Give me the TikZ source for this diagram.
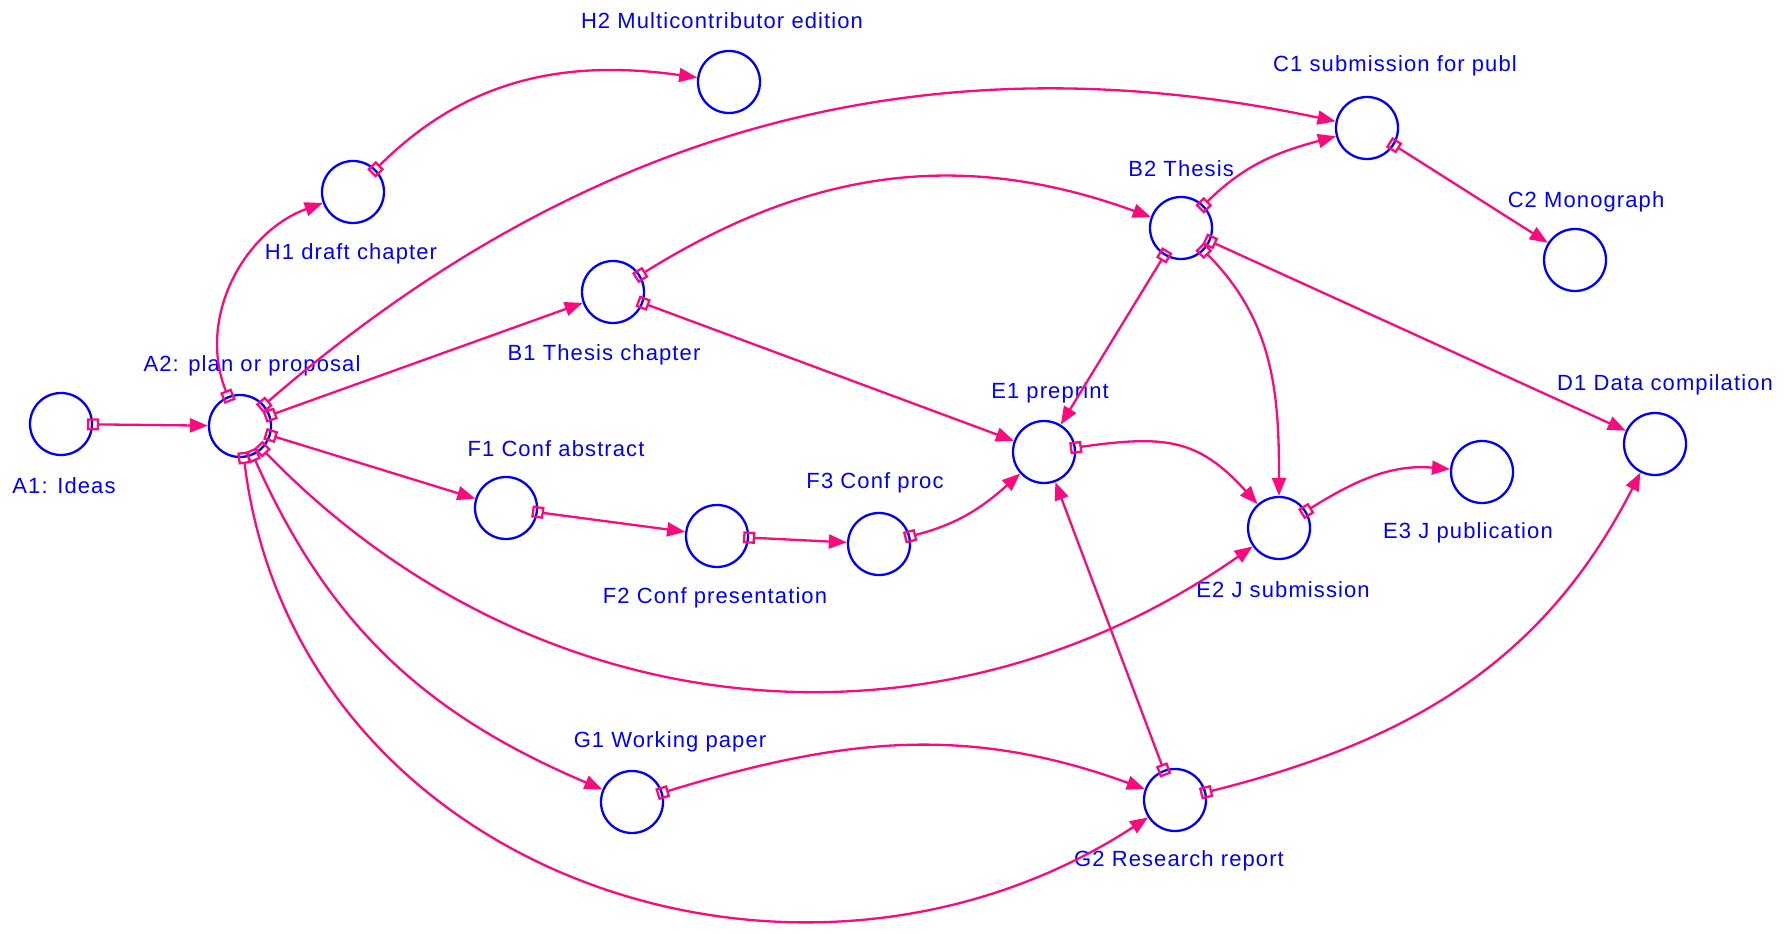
\documentclass[tikz,border=0pt]{standalone}
\usepackage{fontspec}
\setmainfont{Liberation Sans}
\newfontfamily\tagfont{Liberation Sans}[LetterSpace=5]
\usepackage{tikz}
\usetikzlibrary{arrows.meta}
\definecolor{stageblue}{RGB}{0,0,255}
\definecolor{linkpink}{RGB}{250,10,125}
\tikzset{
  stage/.style={circle,draw=stageblue,line width=1.15pt,minimum size=31pt,inner sep=0pt},
  tag/.style={text=stageblue,font=\tagfont\fontsize{11}{13}\selectfont,inner sep=0pt},
  link/.style={draw=linkpink,line width=1.15pt,
               {Square[open,length=6pt,width=6pt]}-{Triangle[length=9pt,width=7pt]},
               shorten <=-3pt},
}

\begin{document}
\begin{tikzpicture}[x=0.5pt,y=0.5pt]
  \useasboundingbox (0,0) rectangle (1791,933);
  % stages
  \node[stage] (A1) at (61,509) {};
  \node[stage] (A2) at (240,507) {};
  \node[stage] (H1) at (353,741) {};
  \node[stage] (H2) at (729,851) {};
  \node[stage] (C1) at (1367,805) {};
  \node[stage] (B2) at (1181,705) {};
  \node[stage] (C2) at (1575,673) {};
  \node[stage] (B1) at (613,641) {};
  \node[stage] (E1) at (1044,481) {};
  \node[stage] (E2) at (1279,405) {};
  \node[stage] (E3) at (1482,461) {};
  \node[stage] (D1) at (1655,489) {};
  \node[stage] (F1) at (506,425) {};
  \node[stage] (F2) at (717,397) {};
  \node[stage] (F3) at (879,389) {};
  \node[stage] (G1) at (632,131) {};
  \node[stage] (G2) at (1175,133) {};
  % labels
  \node[tag] (A1t) at (64,447) {A1: Ideas};
  \node[tag] (A2t) at (252,567) {A2: plan or proposal};
  \node[tag] (H1t) at (351,679) {H1 draft chapter};
  \node[tag] (H2t) at (722,912) {H2 Multicontributor edition};
  \node[tag] (C1t) at (1395,867) {C1 submission for publ};
  \node[tag] (B2t) at (1181,764) {B2 Thesis};
  \node[tag] (C2t) at (1586,731) {C2 Monograph};
  \node[tag] (B1t) at (604,578) {B1 Thesis chapter};
  \node[tag] (E1t) at (1050,540) {E1 preprint};
  \node[tag] (D1t) at (1665,548) {D1 Data compilation};
  \node[tag] (F1t) at (556,484) {F1 Conf abstract};
  \node[tag] (F3t) at (875,450) {F3 Conf proc};
  \node[tag] (E3t) at (1468,400) {E3 J publication};
  \node[tag] (F2t) at (715,335) {F2 Conf presentation};
  \node[tag] (E2t) at (1283,343) {E2 J submission};
  \node[tag] (G1t) at (670,191) {G1 Working paper};
  \node[tag] (G2t) at (1179,72) {G2 Research report};
  % links
  \draw[link] (A1) -- (A2);
  \draw[link] (A2) to[out=112,in=200] (H1);
  \draw[link] (H1) to[out=45,in=172] (H2);
  \draw[link] (A2) to[out=41,in=168,looseness=0.97] (C1);
  \draw[link] (A2) -- (B1);
  \draw[link] (B1) to[out=32,in=160] (B2);
  \draw[link] (B1) -- (E1);
  \draw[link] (B2) to[out=45,in=195] (C1);
  \draw[link] (C1) -- (C2);
  \draw[link] (B2) -- (E1);
  \draw[link] (B2) to[out=-45,in=90] (E2);
  \draw[link] (B2) -- (D1);
  \draw[link] (E1) to[out=8,in=132,looseness=1.2] (E2);
  \draw[link] (E2) to[out=32,in=175] (E3);
  \draw[link] (A2) -- (F1);
  \draw[link] (F1) -- (F2);
  \draw[link] (F2) -- (F3);
  \draw[link] (F3) to[out=14,in=222] (E1);
  \draw[link] (A2) to[out=-46,in=215] (E2);
  \draw[link] (A2) to[out=-66,in=157] (G1);
  \draw[link] (A2) to[out=-83,in=213,looseness=1.1] (G2);
  \draw[link] (G1) to[out=17,in=160] (G2);
  \draw[link] (G2) -- (E1);
  \draw[link] (G2) to[out=14,in=243] (D1);
\end{tikzpicture}
\end{document}
